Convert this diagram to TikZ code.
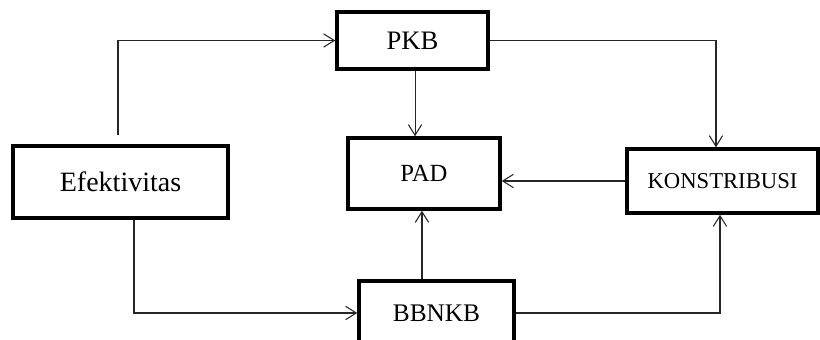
\documentclass[tikz,border=0pt]{standalone}
\usepackage{fontspec}
\setmainfont{Liberation Serif}
\usetikzlibrary{arrows.meta}

\begin{document}
\begin{tikzpicture}[x=0.75pt, y=-0.75pt,
      box/.style={draw, line width=2.6pt, align=center, inner sep=0pt},
      arr/.style={-{Straight Barb[length=8pt, width=10pt]}, line width=0.8pt, draw=black!85} ]
        \useasboundingbox (0,0) rectangle (820,339);
        % the five boxes
        \node[box, minimum width=161.25pt, minimum height=54pt, font=\fontsize{21}{24}\selectfont]
          (efek) at (120.5,182) {Efektivitas};
        \node[box, minimum width=113.25pt, minimum height=42.75pt, font=\fontsize{20}{24}\selectfont]
          (pkb) at (412.5,40.5) {PKB};
        \node[box, minimum width=114pt, minimum height=53.25pt, font=\fontsize{18.5}{22}\selectfont]
          (pad) at (424,173.5) {PAD};
        \node[box, minimum width=143.25pt, minimum height=48pt, font=\fontsize{17}{20}\selectfont]
          (kons) at (722.5,181) {KONSTRIBUSI};
        \node[box, minimum width=116.25pt, minimum height=48pt, font=\fontsize{19}{22}\selectfont]
          (bbnkb) at (436.5,313) {BBNKB};
        % connectors
        \path ([xshift=1.9pt]pkb.south) coordinate (pk1);
        \path ([xshift=-10.9pt]bbnkb.north) coordinate (bb1);
        \draw[arr] ([xshift=-1.9pt, yshift=6.75pt]efek.north) |- (pkb.west);
        \draw[arr] ([xshift=10.1pt]efek.south) |- (bbnkb.west);
        \draw[arr] (pk1) -- (pk1 |- pad.north);
        \draw[arr] (pkb.east) -| ([xshift=-4.9pt]kons.north);
        \draw[arr] (kons.west) -- (kons.west -| pad.east);
        \draw[arr] (bb1) -- (bb1 |- pad.south);
        \draw[arr] (bbnkb.east) -| ([xshift=-1.9pt]kons.south);
\end{tikzpicture}
\end{document}
